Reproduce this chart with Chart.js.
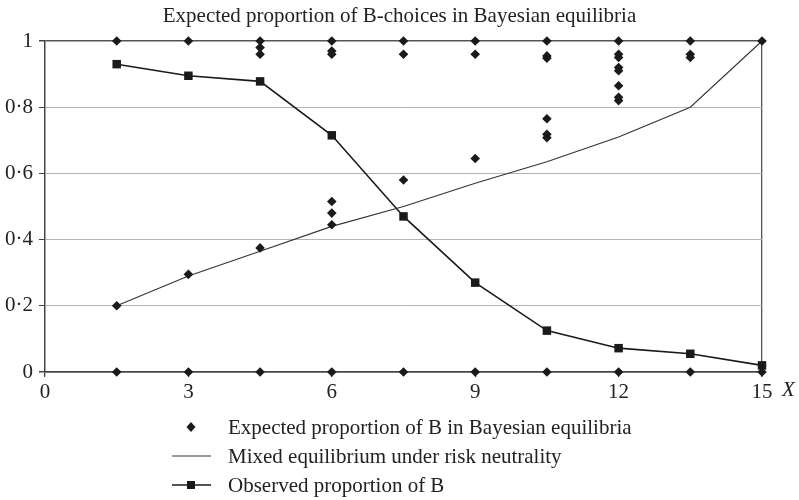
<!DOCTYPE html>
<html>
<head>
<meta charset="utf-8">
<script src="https://cdn.jsdelivr.net/npm/chart.js@4.4.1/dist/chart.umd.min.js"></script>
<style>
  body { margin: 0; background: #fff; }
  #wrap { position: relative; width: 799px; height: 500px; }
  #title { position: absolute; left: 0; top: 3px; width: 799px; text-align: center; font: 21px "Liberation Serif", serif; color: #222; line-height: 24px; }
  .leg { position: absolute; left: 0; font: 21px "Liberation Serif", serif; color: #222; height: 24px; line-height: 24px; }
  .leg svg { position: absolute; left: 168px; top: 0; }
  .leg span { position: absolute; left: 228px; white-space: nowrap; }
</style>
</head>
<body>
<div id="wrap">
  <canvas id="chart" width="799" height="500"></canvas>
  <div id="title">Expected proportion of B-choices in Bayesian equilibria</div>
  <div class="leg" style="top:415px">
    <svg width="50" height="24"><polygon points="23,7 27.5,12 23,17 18.5,12" fill="#1a1a1a"/></svg>
    <span>Expected proportion of B in Bayesian equilibria</span>
  </div>
  <div class="leg" style="top:444px">
    <svg width="50" height="24"><line x1="4" y1="12" x2="43" y2="12" stroke="#333" stroke-width="1"/></svg>
    <span>Mixed equilibrium under risk neutrality</span>
  </div>
  <div class="leg" style="top:473px">
    <svg width="50" height="24"><line x1="4" y1="12" x2="43" y2="12" stroke="#1a1a1a" stroke-width="1.6"/><rect x="19" y="8" width="8" height="8" fill="#1a1a1a"/></svg>
    <span>Observed proportion of B</span>
  </div>
</div>
<script>
const xValues = [1.5, 3, 4.5, 6, 7.5, 9, 10.5, 12, 13.5, 15];

// expected proportion of B in each Bayesian equilibrium, per X
const expectedB = [
    [1, 0.2, 0],
    [1, 0.295, 0],
    [1, 0.98, 0.96, 0.375, 0],
    [1, 0.97, 0.96, 0.515, 0.48, 0.445, 0],
    [1, 0.96, 0.58, 0],
    [1, 0.96, 0.645, 0],
    [1, 0.955, 0.948, 0.765, 0.718, 0.708, 0],
    [1, 0.96, 0.95, 0.92, 0.91, 0.865, 0.83, 0.82, 0],
    [1, 0.96, 0.95, 0],
    [1, 0]
];
const mixedEq = [0.2, 0.29, 0.365, 0.44, 0.5, 0.57, 0.635, 0.71, 0.8, 1];
const observedB = [0.93, 0.895, 0.878, 0.715, 0.47, 0.27, 0.125, 0.072, 0.055, 0.02];
const yTicks = [0, 0.2, 0.4, 0.6, 0.8, 1];
const xTicks = [0, 3, 6, 9, 12, 15];

const serif = '"Liberation Serif", "Times New Roman", serif';

const expectedPts = [];
xValues.forEach((x, i) => expectedB[i].forEach(v => expectedPts.push({ x: x, y: v })));

// italic X next to the last tick
const axisName = {
    id: 'axisName',
    afterDraw(chart) {
        const ctx = chart.ctx;
        const xs = chart.scales.x;
        ctx.save();
        ctx.font = 'italic 21px ' + serif;
        ctx.fillStyle = '#222';
        ctx.textBaseline = 'middle';
        ctx.fillText('X', xs.right + 20, xs.top + 18);
        ctx.restore();
    }
};

const ctx = document.getElementById('chart').getContext('2d');
new Chart(ctx, {
    type: 'scatter',
    data: {
        datasets: [{
            label: 'Expected proportion of B in Bayesian equilibria',
            data: expectedPts,
            pointStyle: 'rectRot',
            pointRadius: 4.8,
            backgroundColor: '#1a1a1a',
            borderColor: '#1a1a1a',
            borderWidth: 0,
            showLine: false,
            clip: false
        }, {
            label: 'Mixed equilibrium under risk neutrality',
            data: xValues.map((x, i) => ({ x: x, y: mixedEq[i] })),
            showLine: true,
            pointRadius: 0,
            borderColor: '#333',
            borderWidth: 1.1,
            clip: false
        }, {
            label: 'Observed proportion of B',
            data: xValues.map((x, i) => ({ x: x, y: observedB[i] })),
            showLine: true,
            pointStyle: 'rect',
            pointRadius: 6,
            backgroundColor: '#1a1a1a',
            borderColor: '#1a1a1a',
            borderWidth: 1.6,
            pointBorderWidth: 0,
            clip: false
        }]
    },
    options: {
        responsive: false,
        animation: false,
        layout: { padding: { left: 0, right: 37, top: 41, bottom: 0 } },
        plugins: {
            legend: { display: false },
            tooltip: { enabled: false },
            title: { display: false }
        },
        scales: {
            x: {
                type: 'linear',
                min: 0,
                max: 15,
                afterFit: s => { s.height = 128; },
                afterBuildTicks: s => { s.ticks = xTicks.map(v => ({ value: v })); },
                ticks: { color: '#222', font: { family: serif, size: 21, lineHeight: 1 }, padding: 5, maxRotation: 0 },
                grid: {
                    color: c => c.tick && c.tick.value === 15 ? '#555' : 'rgba(0,0,0,0)',
                    lineWidth: 1.3,
                    tickColor: '#444',
                    tickLength: 5
                },
                border: { color: '#444', width: 1.5 }
            },
            y: {
                min: 0,
                max: 1,
                afterFit: s => { s.width = 45; },
                afterBuildTicks: s => { s.ticks = yTicks.map(v => ({ value: v })); },
                ticks: {
                    color: '#222',
                    font: { family: serif, size: 21 },
                    padding: 6,
                    callback: v => (v === 0 || v === 1) ? String(v) : v.toFixed(1).replace('.', '·')
                },
                grid: {
                    color: c => (c.tick.value === 0 || c.tick.value === 1) ? '#555' : '#b4b4b4',
                    lineWidth: c => (c.tick.value === 0 || c.tick.value === 1) ? 1.5 : 1,
                    tickColor: '#444',
                    tickLength: 6
                },
                border: { color: '#444', width: 1.5 }
            }
        }
    },
    plugins: [axisName]
});
</script>
</body>
</html>
